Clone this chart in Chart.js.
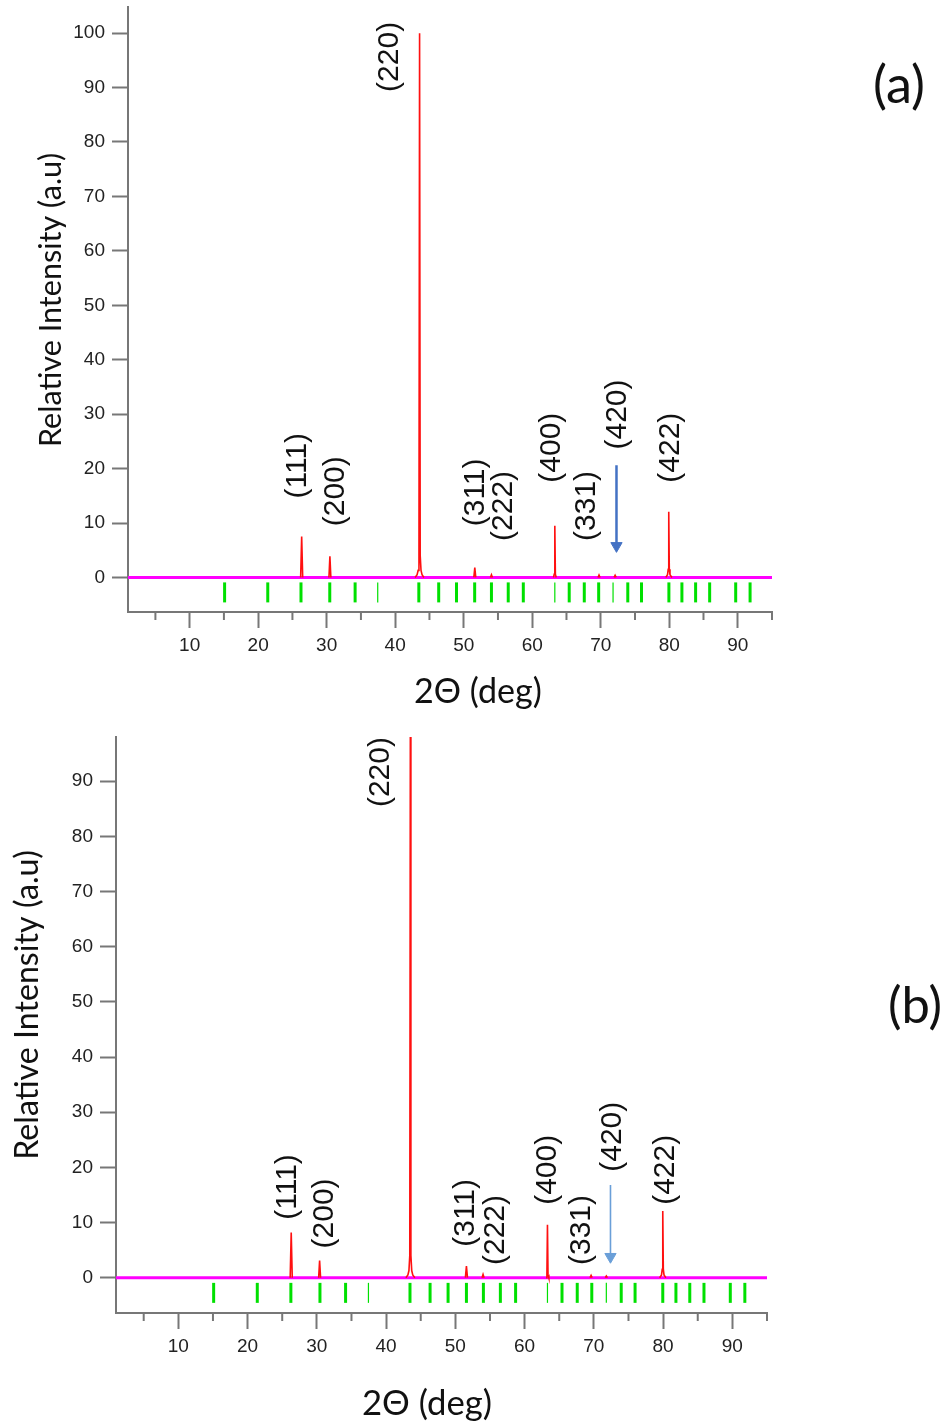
<!DOCTYPE html>
<html>
<head>
<meta charset="utf-8">
<title>XRD patterns (a) and (b)</title>
<script src="https://cdn.jsdelivr.net/npm/chart.js@4.4.1/dist/chart.umd.min.js"></script>
<style>
  body { margin: 0; background: #fff; }
  .panel { position: absolute; left: 0; }
  #panel-a { top: 0; }
  #panel-b { top: 715px; }
</style>
</head>
<body>
<div class="panel" id="panel-a"><canvas id="chart-a" width="945" height="715"></canvas></div>
<div class="panel" id="panel-b"><canvas id="chart-b" width="945" height="711"></canvas></div>
<script>
// Miller indices of the labelled reflections
const hkl = ['(111)', '(200)', '(220)', '(311)', '(222)', '(400)', '(331)', '(420)', '(422)'];

// Peak profiles of pattern (a): one list of [2theta, intensity] per reflection
const profileA = [
    [[26.2, 0], [26.35, 7.5], [26.5, 0]],
    [[30.33, 0], [30.47, 3.9], [30.61, 0]],
    [[42.9, 0], [43.2, 0.5], [43.35, 1.3], [43.47, 4], [43.56, 100], [43.65, 4], [43.77, 1.3], [43.92, 0.5], [44.2, 0]],
    [[51.48, 0], [51.62, 1.8], [51.76, 0]],
    [[53.9, 0], [54.05, 0.5], [54.2, 0]],
    [[63.1, 0], [63.22, 0.6], [63.3, 9.5], [63.38, 0.6], [63.5, 0]],
    [[69.6, 0], [69.75, 0.45], [69.9, 0]],
    [[71.95, 0], [72.1, 0.4], [72.25, 0]],
    [[79.5, 0], [79.75, 0.5], [79.85, 1.5], [79.93, 12.05], [80.01, 1.5], [80.11, 0.5], [80.4, 0]]
];

// Peak profiles of pattern (b)
const profileB = [
    [[26.15, 0], [26.3, 8.2], [26.45, 0]],
    [[30.26, 0], [30.4, 3.1], [30.54, 0]],
    [[42.85, 0], [43.15, 0.5], [43.3, 1.3], [43.42, 4], [43.5, 100], [43.58, 4], [43.7, 1.3], [43.85, 0.5], [44.15, 0]],
    [[51.45, 0], [51.6, 2.1], [51.75, 0]],
    [[53.85, 0], [54.0, 0.6], [54.15, 0]],
    [[63.1, 0], [63.22, 0.6], [63.3, 9.6], [63.38, 0.6], [63.5, 0]],
    [[69.45, 0], [69.6, 0.4], [69.75, 0]],
    [[71.65, 0], [71.8, 0.3], [71.95, 0]],
    [[79.5, 0], [79.77, 0.5], [79.87, 1.5], [79.95, 12.1], [80.03, 1.5], [80.13, 0.5], [80.4, 0]]
];

// Reference reflection positions (green markers), same for both patterns
const reflections = [15.1, 21.4, 26.25, 30.45, 34.15, 37.45, 43.45, 46.35, 48.95, 51.6, 54.05, 56.5, 58.7,
    63.3, 65.4, 67.6, 69.7, 71.8, 73.95, 75.95, 79.95, 81.85, 83.85, 85.9, 89.7, 91.8];
const thinReflections = [37.45, 63.3, 71.8];

// Arrow pointing at the weak (420) peak: [2theta, intensity] start and head
const arrowA = [[72.3, 20.6], [72.3, 5.8]];
const arrowB = [[72.4, 16.8], [72.4, 3.8]];

// Tick values
const xMajorTicks = [10, 20, 30, 40, 50, 60, 70, 80, 90];
const xMinorTicks = [5, 15, 25, 35, 45, 55, 65, 75, 85, 95];
const yTicksA = [0, 10, 20, 30, 40, 50, 60, 70, 80, 90, 100];
const yTicksB = [0, 10, 20, 30, 40, 50, 60, 70, 80, 90];

// Where each hkl label starts, in data units [2theta, intensity]
const labelSpotA = [[25.75, 14.5], [31.3, 9.4], [39.2, 89.2], [51.7, 9.4], [55.8, 6.7], [62.8, 17.4], [67.9, 6.7], [72.5, 23.5], [80.2, 17.4]];
const labelSpotB = [[25.8, 10.5], [31.1, 5.3], [39.2, 85.3], [51.5, 5.6], [55.8, 2.3], [63.4, 13.2], [68.2, 2.3], [72.7, 19.2], [80.4, 13.2]];

const AXIS_GREY = '#777';
const TICK_FONT = "'Liberation Sans', Arial, sans-serif";
const TITLE_FONT = "Lato, 'Open Sans', sans-serif";

// Join the separate peaks into one dataset, with gaps between them
function flattenProfile(profile) {
    var pts = [];
    profile.forEach(function(peak) {
        peak.forEach(function(p) { pts.push({ x: p[0], y: p[1] }); });
        pts.push({ x: peak[peak.length - 1][0], y: null });
    });
    return pts;
}

// Pick a font size so the text spans the given width
function fitFont(ctx, text, family, width) {
    ctx.font = '100px ' + family;
    return 100 * width / ctx.measureText(text).width;
}

function drawFitted(ctx, text, cx, cy, width, rotate) {
    var size = fitFont(ctx, text, TITLE_FONT, width);
    ctx.save();
    ctx.font = size.toFixed(1) + 'px ' + TITLE_FONT;
    ctx.fillStyle = '#111';
    ctx.textAlign = 'center';
    ctx.textBaseline = 'middle';
    ctx.translate(cx, cy);
    if (rotate) ctx.rotate(-Math.PI / 2);
    ctx.fillText(text, 0, 0);
    ctx.restore();
}

// Draws the hkl labels, the minor x ticks and the axis titles
const panelText = {
    id: 'panelText',
    afterDraw: function(chart, args, opts) {
        var ctx = chart.ctx;
        var xs = chart.scales.x;
        var ys = chart.scales.y;
        ctx.save();

        // minor ticks on the 2theta axis
        ctx.strokeStyle = AXIS_GREY;
        ctx.lineWidth = 2;
        xMinorTicks.forEach(function(v) {
            var px = xs.getPixelForValue(v);
            ctx.beginPath();
            ctx.moveTo(px, xs.top);
            ctx.lineTo(px, xs.top + 8);
            ctx.stroke();
        });

        // hkl labels, rotated
        ctx.fillStyle = '#111';
        ctx.font = '30px ' + TICK_FONT;
        ctx.textAlign = 'left';
        ctx.textBaseline = 'middle';
        opts.spots.forEach(function(s, i) {
            ctx.save();
            ctx.translate(xs.getPixelForValue(s[0]), ys.getPixelForValue(s[1]));
            ctx.rotate(-Math.PI / 2);
            ctx.fillText(hkl[i], 0, 0);
            ctx.restore();
        });
        ctx.restore();

        var t = opts.titles;
        drawFitted(ctx, 'Relative Intensity (a.u)', t.y[0], t.y[1], t.y[2], true);
        drawFitted(ctx, '2\u0398 (deg)', t.x[0], t.x[1], t.x[2], false);
        drawFitted(ctx, opts.letter, t.letter[0], t.letter[1], t.letter[2], false);
    }
};

function makeChart(id, s) {
    var ctx = document.getElementById(id).getContext('2d');
    var h = ctx.canvas.height;
    return new Chart(ctx, {
        type: 'scatter',
        data: {
            datasets: [{
                // diffraction peaks
                data: flattenProfile(s.profile),
                showLine: true,
                spanGaps: false,
                borderColor: '#ff1010',
                borderWidth: 1.6,
                pointRadius: 0,
                order: 1
            }, {
                // zero line
                data: [{ x: 1, y: 0 }, { x: 95, y: 0 }],
                showLine: true,
                borderColor: '#ff00ff',
                borderWidth: 3,
                pointRadius: 0,
                order: 3
            }, {
                // reference reflections as short vertical bars
                data: reflections.map(function(v) { return { x: v, y: -2.75 }; }),
                pointStyle: 'line',
                rotation: 90,
                pointRadius: 10,
                pointBorderColor: '#00e000',
                pointBorderWidth: reflections.map(function(v) { return thinReflections.indexOf(v) >= 0 ? 1.2 : 3; }),
                order: 2
            }, {
                // arrow to (420)
                data: s.arrow.map(function(p) { return { x: p[0], y: p[1] }; }),
                showLine: true,
                borderColor: s.arrowColor,
                borderWidth: s.arrowWidth,
                pointStyle: 'triangle',
                rotation: 180,
                pointRadius: [0, 6.5],
                pointBackgroundColor: s.arrowColor,
                pointBorderColor: s.arrowColor,
                pointBorderWidth: 1,
                order: 0
            }]
        },
        options: {
            responsive: false,
            animation: false,
            layout: {
                autoPadding: false,
                padding: { top: s.plot.top, right: 945 - s.plot.right, left: 0, bottom: 0 }
            },
            plugins: {
                legend: { display: false },
                tooltip: { enabled: false },
                panelText: { spots: s.spots, titles: s.titles, letter: s.letter }
            },
            scales: {
                x: {
                    type: 'linear',
                    bounds: 'data',
                    min: 1,
                    max: 95,
                    afterBuildTicks: function(scale) { scale.ticks = xMajorTicks.map(function(v) { return { value: v }; }); },
                    afterFit: function(scale) {
                        scale.height = h - s.plot.bottom;
                        scale.paddingLeft = 0;
                        scale.paddingRight = 0;
                    },
                    grid: { drawOnChartArea: false, tickLength: 16, tickWidth: 2, tickColor: AXIS_GREY },
                    border: { display: true, color: AXIS_GREY, width: 2 },
                    ticks: { color: '#222', padding: 6, maxRotation: 0, font: { family: TICK_FONT, size: 19 } }
                },
                y: {
                    type: 'linear',
                    bounds: 'data',
                    min: s.yMin,
                    max: s.yMax,
                    afterBuildTicks: function(scale) { scale.ticks = s.yTicks.map(function(v) { return { value: v }; }); },
                    afterFit: function(scale) {
                        scale.width = s.plot.left;
                        scale.paddingTop = 0;
                        scale.paddingBottom = 0;
                    },
                    grid: { drawOnChartArea: false, tickLength: 16, tickWidth: 2, tickColor: AXIS_GREY },
                    border: { display: true, color: AXIS_GREY, width: 2 },
                    ticks: { color: '#222', padding: 7, font: { family: TICK_FONT, size: 19 } }
                }
            }
        },
        plugins: [panelText]
    });
}

makeChart('chart-a', {
    profile: profileA,
    arrow: arrowA,
    arrowColor: '#4472c4',
    arrowWidth: 2.5,
    spots: labelSpotA,
    yTicks: yTicksA,
    yMin: -6.35,
    yMax: 104.8,
    plot: { left: 128, right: 772, top: 7, bottom: 612 },
    titles: { y: [51, 300, 294], x: [478, 692, 128], letter: [899, 86, 52] },
    letter: '(a)'
});

makeChart('chart-b', {
    profile: profileB,
    arrow: arrowB,
    arrowColor: '#6a9fd8',
    arrowWidth: 1.6,
    spots: labelSpotB,
    yTicks: yTicksB,
    yMin: -6.4,
    yMax: 98,
    plot: { left: 116, right: 767, top: 22, bottom: 598 },
    titles: { y: [28, 290, 310], x: [427, 689, 130], letter: [915, 292, 54] },
    letter: '(b)'
});
</script>
</body>
</html>
